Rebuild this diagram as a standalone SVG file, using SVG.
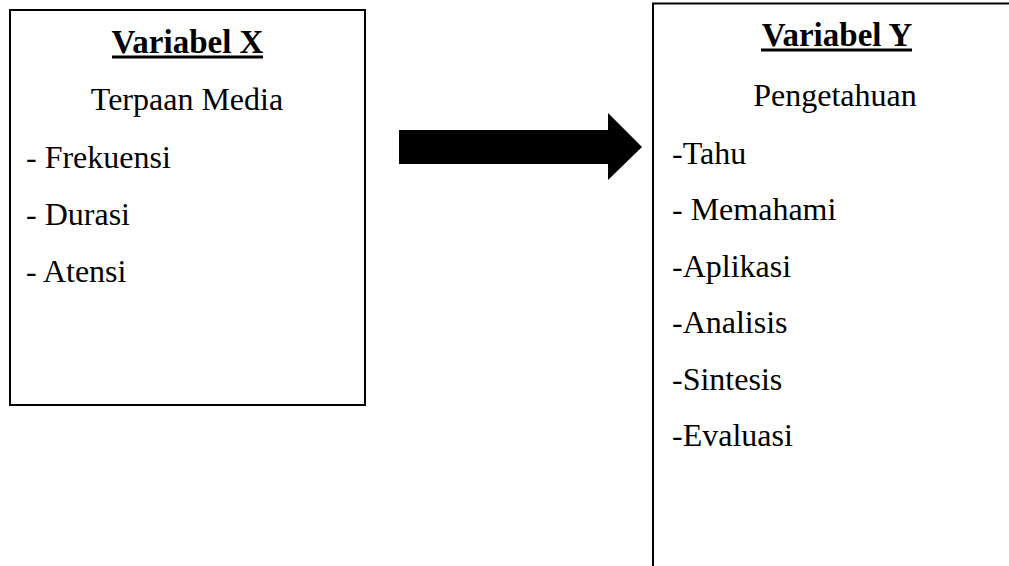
<svg xmlns="http://www.w3.org/2000/svg" width="1009" height="566" viewBox="0 0 1009 566">
<style>
.box{fill:#fff;stroke:#000;stroke-width:2}
.t{font-family:"Liberation Serif","Times New Roman",serif;font-size:32px;fill:#000}
.h{font-family:"Liberation Serif","Times New Roman",serif;font-size:33px;font-weight:bold;fill:#000}
.ul{stroke:#000;stroke-width:3}
</style>
<rect width="1009" height="566" fill="#fff"/>
<g id="variabel-x">
<rect class="box" x="10" y="10" width="355" height="395"/>
<text class="h" x="187.5" y="53" text-anchor="middle">Variabel X</text>
<line class="ul" x1="112" y1="57" x2="263" y2="57"/>
<text class="t" x="187" y="110" text-anchor="middle">Terpaan Media</text>
<text class="t" x="26" y="168">- Frekuensi</text>
<text class="t" x="26" y="225">- Durasi</text>
<text class="t" x="26" y="282">- Atensi</text>
</g>
<g id="variabel-y">
<rect class="box" x="653" y="3.5" width="400" height="600"/>
<text class="h" x="837" y="46" text-anchor="middle">Variabel Y</text>
<line class="ul" x1="761" y1="50" x2="912" y2="50"/>
<text class="t" x="835" y="106" text-anchor="middle">Pengetahuan</text>
<text class="t" x="672" y="164">-Tahu</text>
<text class="t" x="672" y="220">- Memahami</text>
<text class="t" x="672" y="277">-Aplikasi</text>
<text class="t" x="672" y="333">-Analisis</text>
<text class="t" x="672" y="390">-Sintesis</text>
<text class="t" x="672" y="446">-Evaluasi</text>
</g>
<g id="connectors">
<polygon points="399,130 608,130 608,113 642,147 608,180 608,164 399,164" fill="#000"/>
</g>
</svg>
